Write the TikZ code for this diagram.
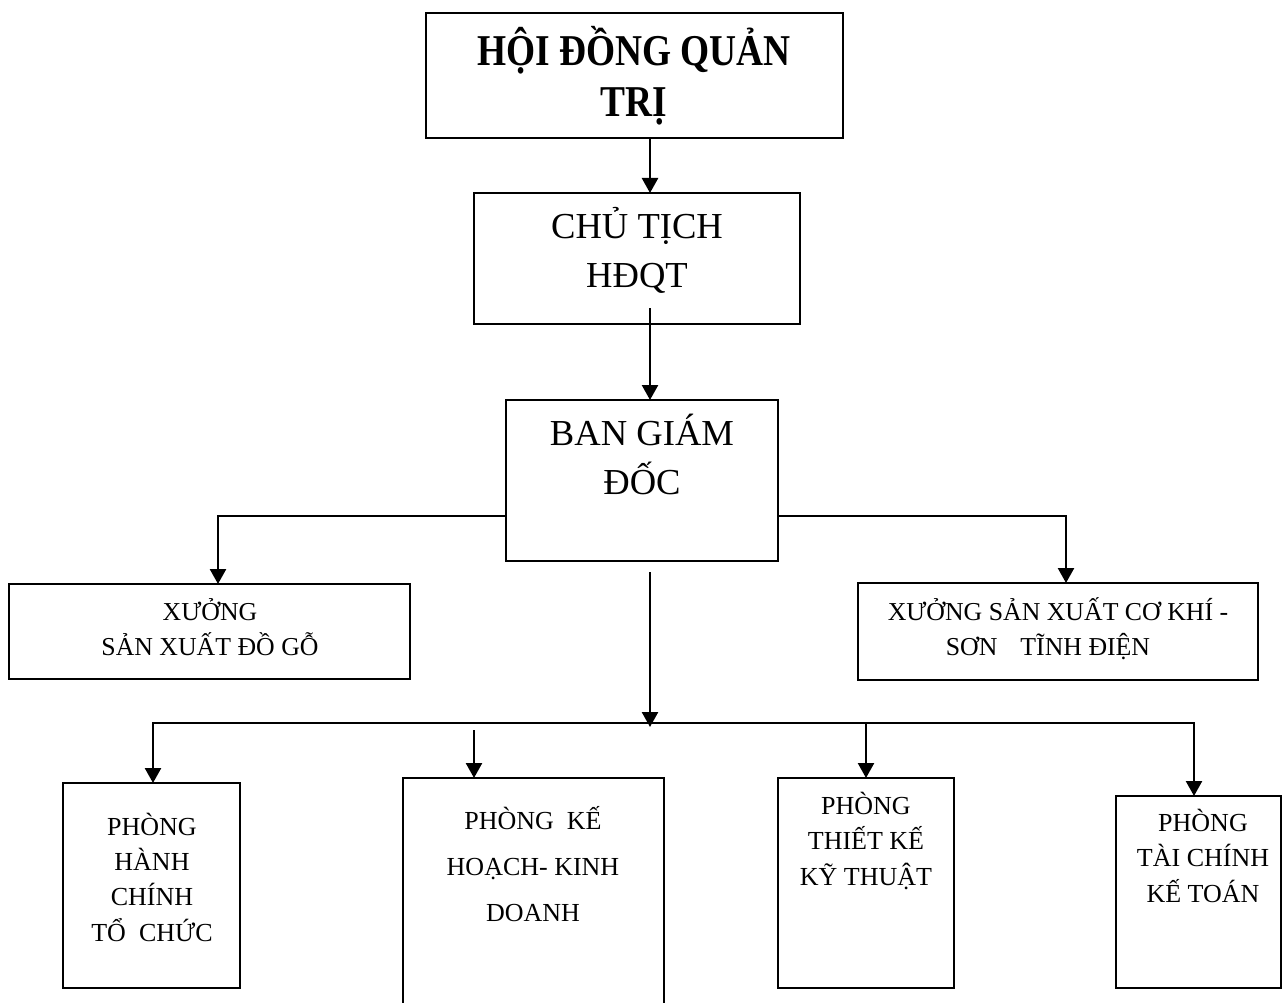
\documentclass[tikz,border=0pt]{standalone}
\usepackage{fontspec}
\setmainfont{Liberation Serif}
\newfontfamily\headfont[FakeStretch=0.85]{Liberation Serif}
\usetikzlibrary{arrows.meta,calc}
\begin{document}
\begin{tikzpicture}[x=1pt,y=-1pt,
  box/.style={draw,line width=2.4pt,rectangle,inner sep=0pt,outer sep=0pt},
  link/.style={line width=2.5pt},
  arr/.style={link,-{Triangle[length=15pt,width=16pt]}},
  % every label node is anchored at the baseline of its last line
  headtext/.style={font=\headfont\bfseries\fontsize{44}{51}\selectfont,align=center,anchor=base,inner sep=0pt},
  bigtext/.style={font=\fontsize{36.6}{49}\selectfont,align=center,anchor=base,inner sep=0pt},
  midtext/.style={font=\fontsize{25.8}{35}\selectfont,align=center,anchor=base,inner sep=0pt},
  smalltext/.style={font=\fontsize{26}{35.3}\selectfont,align=center,anchor=base,inner sep=0pt},
  widetext/.style={font=\fontsize{26}{46}\selectfont,align=center,anchor=base,inner sep=0pt}]

\useasboundingbox (0,0) rectangle (1282,1003);
\fill[white] (0,0) rectangle (1282,1003);
\clip (0,0) rectangle (1282,1003);

% boxes
\node[box,minimum width=417,minimum height=125] (hdqt) at (634.5,75.5) {};
\node[box,minimum width=326,minimum height=131] (chutich) at (637,258.5) {};
\node[box,minimum width=272,minimum height=161] (bgd) at (642,480.5) {};
\node[box,minimum width=401,minimum height=95] (xgo) at (209.5,631.5) {};
\node[box,minimum width=400,minimum height=97] (xck) at (1058,631.5) {};
\node[box,minimum width=177,minimum height=205] (phc) at (151.5,885.5) {};
\node[box,minimum width=261,minimum height=232] (pkh) at (533.5,894) {};
\node[box,minimum width=176,minimum height=210] (ptk) at (866,883) {};
\node[box,minimum width=165,minimum height=192] (ptc) at (1198.5,892) {};

% labels
\node[headtext] (thdqt) at (634,117) {HỘI ĐỒNG QUẢN\\TRỊ};
\node[bigtext] (tchutich) at (637,287) {CHỦ TỊCH\\HĐQT};
\node[bigtext] (tbgd) at (642,494) {BAN GIÁM\\ĐỐC};
\node[midtext] (txgo) at (210,655) {XƯỞNG\\SẢN XUẤT ĐỒ GỖ};
\node[midtext] (txck) at (1058,655) {XƯỞNG SẢN XUẤT CƠ KHÍ -\\SƠN\hspace*{23pt}TĨNH ĐIỆN\hspace*{20pt}};
\node[smalltext] (tphc) at (152,941) {PHÒNG\\HÀNH\\CHÍNH\\TỔ\ \ CHỨC};
\node[widetext] (tpkh) at (533,921) {PHÒNG\ \ KẾ\\HOẠCH- KINH\\DOANH};
\node[smalltext] (tptk) at (866,885) {PHÒNG\\THIẾT KẾ\\KỸ THUẬT};
\node[smalltext] (tptc) at (1203,902) {PHÒNG\\TÀI CHÍNH\\KẾ TOÁN};

% connectors
\coordinate (bus) at (650,723);
\draw[arr] ($(hdqt.south)+(15.5,0)$) -- ($(chutich.north)+(13,0)$);
\draw[arr] ($(chutich.south)+(13,-16)$) -- ($(bgd.north)+(8,0)$);
\draw[arr] ($(bgd.west)+(0,35.5)$) -| ($(xgo.north)+(8.5,0)$);
\draw[arr] ($(bgd.east)+(0,35.5)$) -| ($(xck.north)+(8,0)$);
\draw[arr] ($(bgd.south)+(8,11)$) -- ($(bus)+(0,4)$);
\draw[arr] (bus) -| ($(phc.north)+(1.5,0)$);
\draw[arr] (bus) -| ($(ptc.north)+(-4.5,0)$);
\draw[arr] (bus -| ptk.north) -- (ptk.north);
\draw[arr] ($(pkh.north)+(-59.5,-48)$) -- ($(pkh.north)+(-59.5,0)$);
\end{tikzpicture}
\end{document}
